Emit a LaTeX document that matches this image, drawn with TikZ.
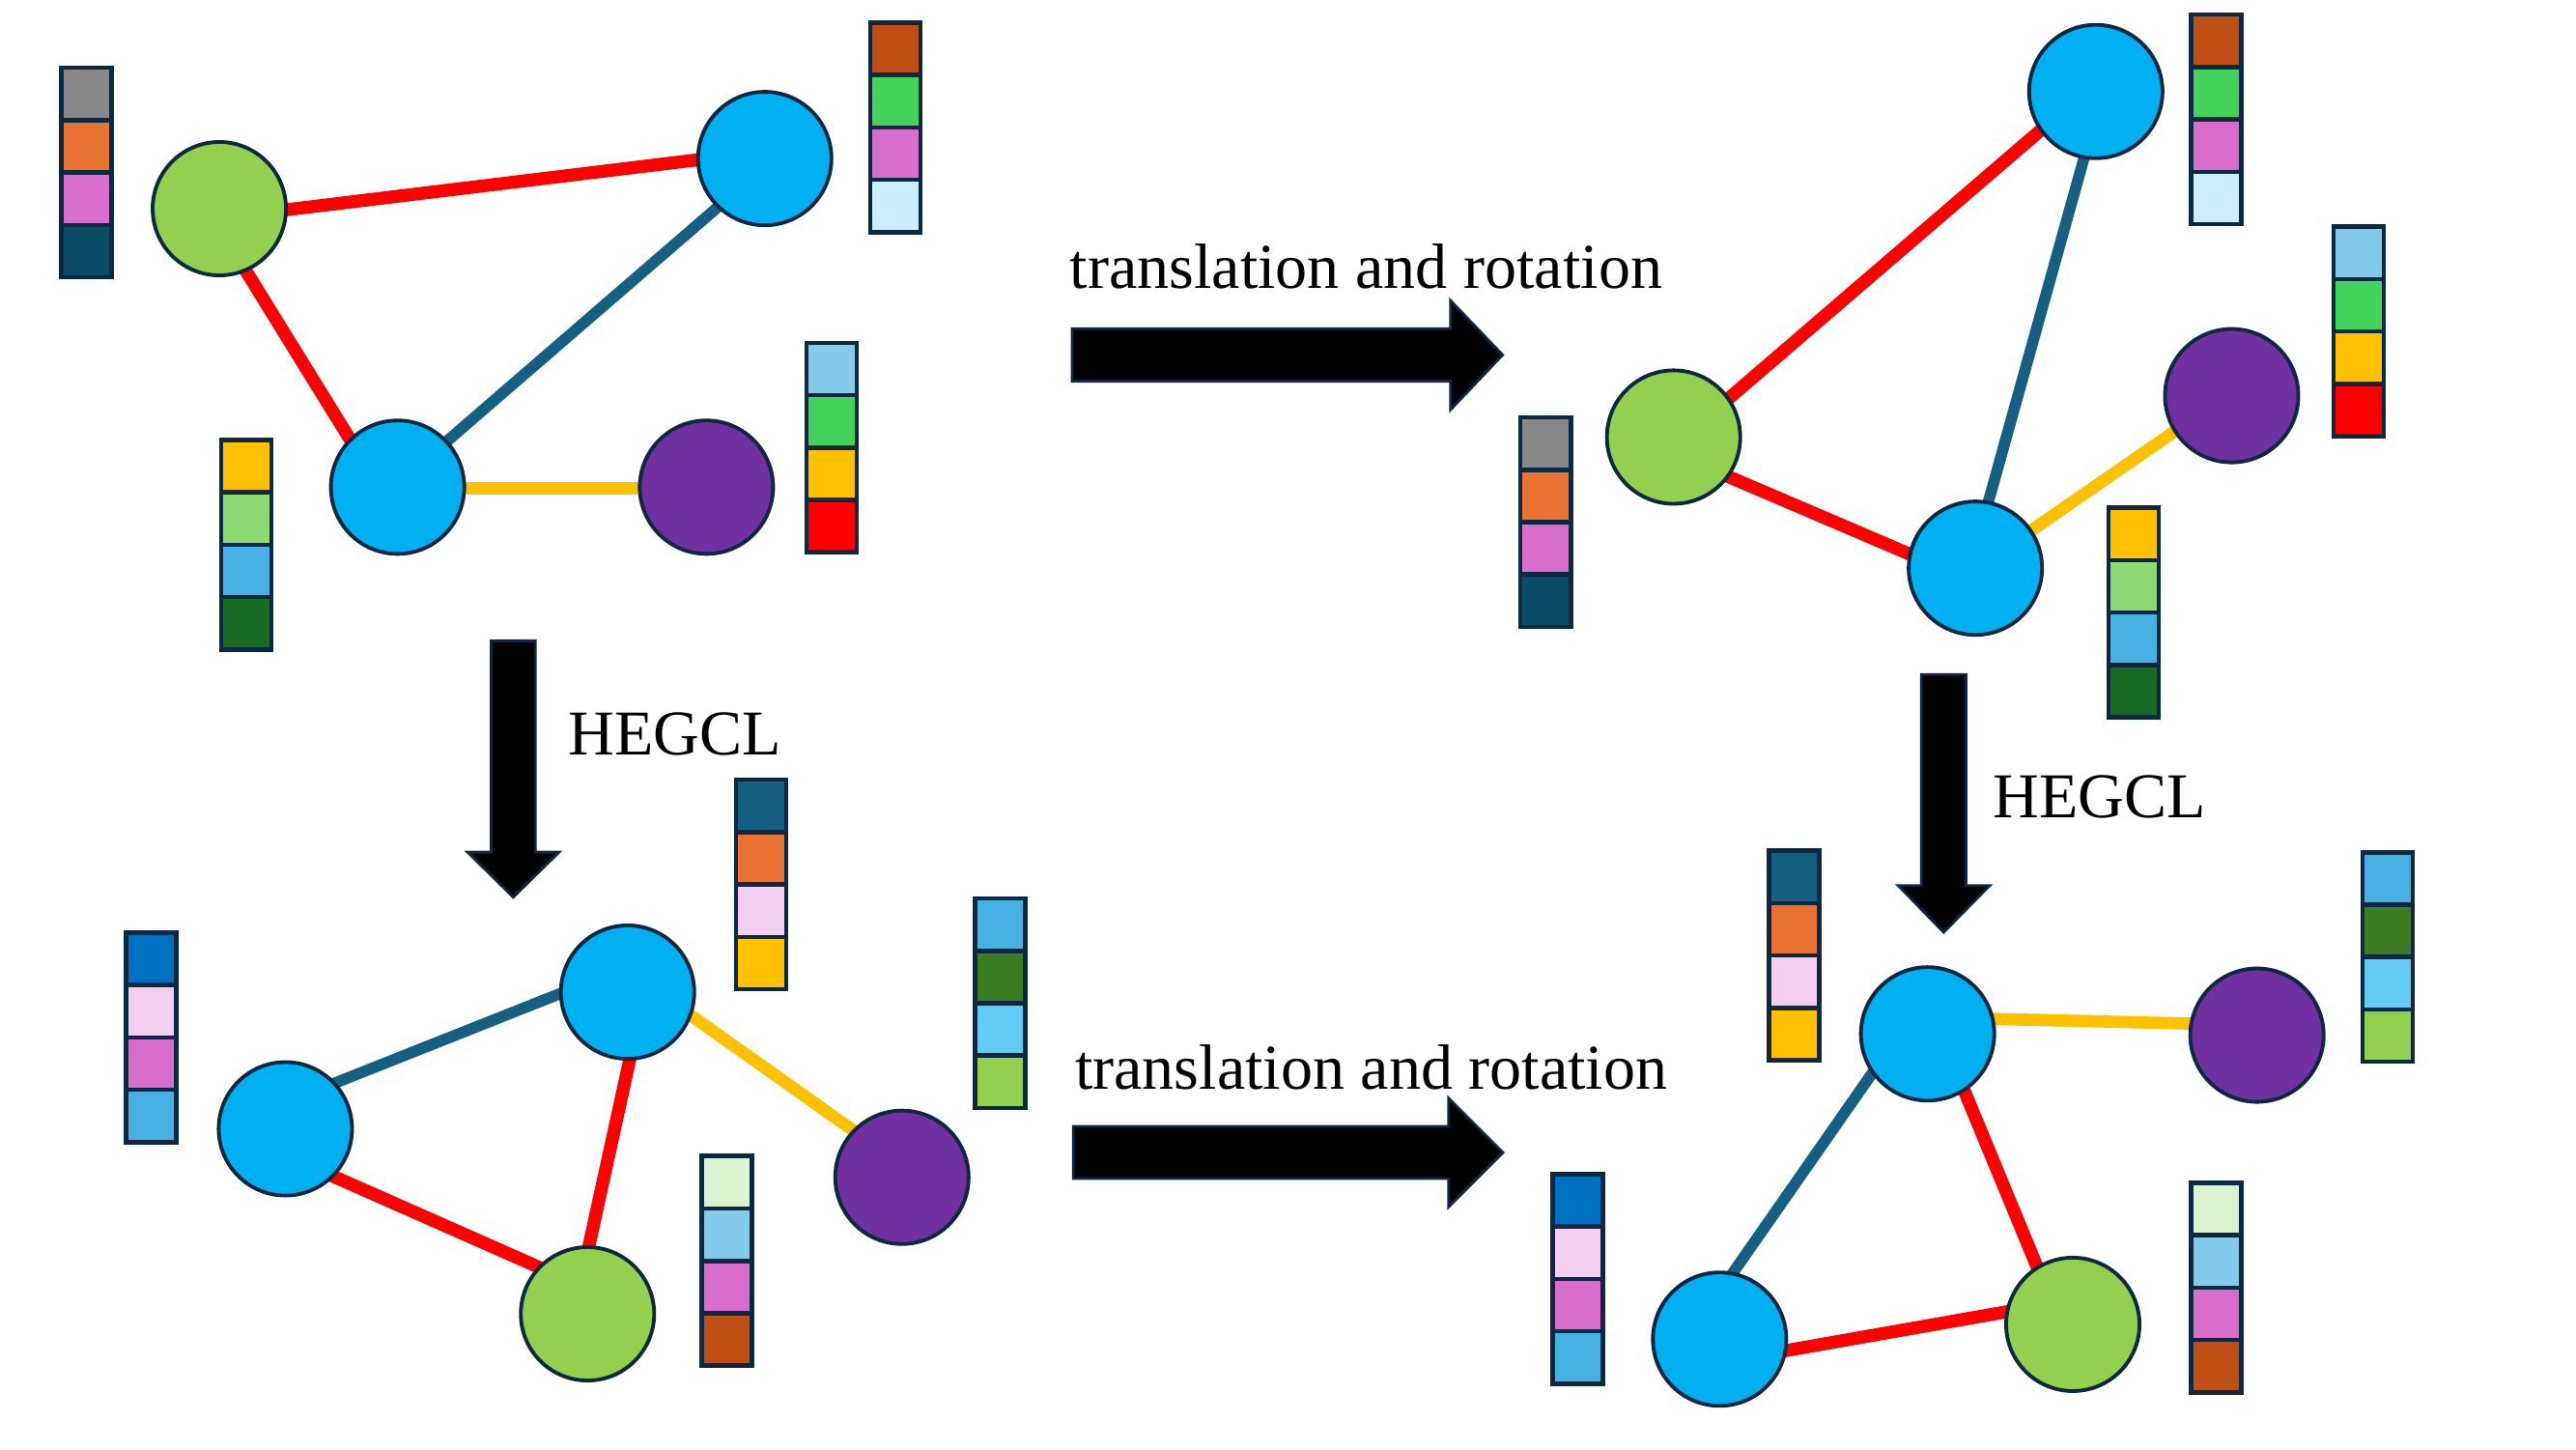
\documentclass[tikz,border=0pt]{standalone}
\usepackage{fontspec}
\setmainfont{Liberation Serif}
\pgfdeclarelayer{bg}
\pgfsetlayers{bg,main}
\definecolor{nodeblue}{HTML}{00B0F0}
\definecolor{nodegreen}{HTML}{92D050}
\definecolor{nodepurple}{HTML}{7030A0}
\definecolor{outline}{HTML}{0E2841}
\definecolor{edgered}{HTML}{FF0000}
\definecolor{edgeteal}{HTML}{156082}
\definecolor{edgeyellow}{HTML}{FFC000}
\definecolor{cgray}{HTML}{878787}
\definecolor{corange}{HTML}{E97132}
\definecolor{cmag}{HTML}{D86ECC}
\definecolor{cdteal}{HTML}{0C4B68}
\definecolor{cteal}{HTML}{156082}
\definecolor{cbrown}{HTML}{C04F15}
\definecolor{cgreen}{HTML}{44D35A}
\definecolor{cpale}{HTML}{CAEEFB}
\definecolor{clblue}{HTML}{83CAEB}
\definecolor{cred}{HTML}{FF0000}
\definecolor{cyellow}{HTML}{FFC000}
\definecolor{clgreen}{HTML}{8ED973}
\definecolor{csky}{HTML}{45B0E1}
\definecolor{cdgreen}{HTML}{196B24}
\definecolor{cblue}{HTML}{0070C0}
\definecolor{cpink}{HTML}{F2CFEE}
\definecolor{cmidgreen}{HTML}{3B7D23}
\definecolor{ccyan}{HTML}{61CBF3}
\definecolor{cyg}{HTML}{92D050}
\definecolor{cmint}{HTML}{DAF2D0}
\newcommand\featbar[7]{%
  \node[cell,fill=#4] (#1a) at ({#2+1.2},{#3+1.2}) {};
  \node[cell,fill=#5] (#1b) at (#1a.south west) {};
  \node[cell,fill=#6] (#1c) at (#1b.south west) {};
  \node[cell,fill=#7] (#1d) at (#1c.south west) {};}
\begin{document}
\begin{tikzpicture}[x=0.017cm,y=-0.017cm,
  vtx/.style={circle,draw=outline,line width=1.1pt,minimum size=1.38cm,inner sep=0pt,outer sep=0pt},
  cell/.style={rectangle,draw=outline,line width=1.3pt,minimum width=0.52cm,minimum height=0.542cm,inner sep=0pt,outer sep=0pt,anchor=north west},
  edge/.style={shorten <=-5pt,shorten >=-5pt},
  redge/.style={edge,draw=edgered,line width=3.8pt},
  tedge/.style={edge,draw=edgeteal,line width=3.3pt},
  yedge/.style={edge,draw=edgeyellow,line width=3.6pt},
  blockarrow/.style={fill=black,draw=outline,line width=0.8pt,line join=miter},
  lbl/.style={inner sep=0pt,anchor=base west,font=\fontsize{18.8}{23}\selectfont}]
\useasboundingbox (0,0) rectangle (1568,882);

% graph 1 (top left)
\node[vtx,fill=nodegreen] (g1) at (133.5,127) {};
\node[vtx,fill=nodeblue] (b1) at (465.5,96.5) {};
\node[vtx,fill=nodeblue] (b2) at (242,296.5) {};
\node[vtx,fill=nodepurple] (p1) at (430,296.5) {};
% graph 2 (bottom left)
\node[vtx,fill=nodeblue] (b3) at (173.7,687) {};
\node[vtx,fill=nodeblue] (b4) at (382,603.8) {};
\node[vtx,fill=nodegreen] (g2) at (357.6,799.6) {};
\node[vtx,fill=nodepurple] (p2) at (549,716.5) {};
% graph 3 (top right)
\node[vtx,fill=nodeblue] (b5) at (1275.7,55.7) {};
\node[vtx,fill=nodegreen] (g3) at (1018.7,266) {};
\node[vtx,fill=nodeblue] (b6) at (1202.4,345.8) {};
\node[vtx,fill=nodepurple] (p3) at (1358.4,240.8) {};
% graph 4 (bottom right)
\node[vtx,fill=nodeblue] (b7) at (1173.3,629.2) {};
\node[vtx,fill=nodepurple] (p4) at (1373.8,630) {};
\node[vtx,fill=nodeblue] (b8) at (1046.7,815) {};
\node[vtx,fill=nodegreen] (g4) at (1261.7,806) {};

\begin{pgfonlayer}{bg}
\draw[redge] (g1.-1) -- (b1.181);
\draw[redge] (g1.-67) -- (b2.135);
\draw[tedge] (b1.226) -- (b2.43);
\draw[yedge] (b2.-1) -- (p1.181);

\draw[tedge] (b3.43) -- (b4.181);
\draw[redge] (b3.-45) -- (g2.136);
\draw[redge] (b4.-88) -- (g2.89);
\draw[yedge] (b4.-20) -- (p2.136);

\draw[redge] (g3.35) -- (b5.215);
\draw[redge] (g3.-36) -- (b6.168);
\draw[tedge] (b5.260) -- (b6.79);
\draw[yedge] (b6.34) -- (p3.212);

\draw[yedge] (b7.13) -- (p4.170);
\draw[tedge] (b7.215) -- (b8.79);
\draw[redge] (b7.-57) -- (g4.122);
\draw[redge] (b8.-10) -- (g4.169);
\end{pgfonlayer}

% feature bars
\featbar{f1}{36}{40}{cgray}{corange}{cmag}{cdteal}
\featbar{f2}{528.6}{12.6}{cbrown}{cgreen}{cmag}{cpale}
\featbar{f3}{133.5}{266.5}{cyellow}{clgreen}{csky}{cdgreen}
\featbar{f4}{489.7}{207.4}{clblue}{cgreen}{cyellow}{cred}

\featbar{fa}{75.5}{566.4}{cblue}{cpink}{cmag}{csky}
\featbar{fb}{446.7}{473.3}{cteal}{corange}{cpink}{cyellow}
\featbar{fc}{592.3}{545.6}{csky}{cmidgreen}{ccyan}{cyg}
\featbar{fd}{426}{702.4}{cmint}{clblue}{cmag}{cbrown}

\featbar{fe}{924.3}{252.8}{cgray}{corange}{cmag}{cdteal}
\featbar{ff}{1332.6}{7.7}{cbrown}{cgreen}{cmag}{cpale}
\featbar{fg}{1419.3}{136.8}{clblue}{cgreen}{cyellow}{cred}
\featbar{fh}{1282.3}{307.8}{cyellow}{clgreen}{csky}{cdgreen}

\featbar{fi}{1075.5}{516.6}{cteal}{corange}{cpink}{cyellow}
\featbar{fj}{1436.8}{517.5}{csky}{cmidgreen}{ccyan}{cyg}
\featbar{fk}{943.9}{713.4}{cblue}{cpink}{cmag}{csky}
\featbar{fl}{1332.4}{718.7}{cmint}{clblue}{cmag}{cbrown}

% block arrows
\draw[blockarrow] (652.6,200) -- (883,200) -- (883,183) -- (914.6,216) -- (883,249.3) -- (883,232) -- (652.6,232) -- cycle;
\draw[blockarrow] (653.3,685.5) -- (881.7,685.5) -- (881.7,668.3) -- (914.8,701.4) -- (881.7,734.5) -- (881.7,717.3) -- (653.3,717.3) -- cycle;
\draw[blockarrow] (299,390) -- (325.8,390) -- (325.8,518.6) -- (340.3,518.6) -- (312.4,546) -- (284.6,518.6) -- (299,518.6) -- cycle;
\draw[blockarrow] (1169.5,410.5) -- (1196.7,410.5) -- (1196.7,539) -- (1211,539) -- (1183.1,567.4) -- (1155.5,539) -- (1169.5,539) -- cycle;

% labels
\node[lbl] (t1) at (650.9,175.3) {translation and rotation};
\node[lbl] (t2) at (654,662.6) {translation and rotation};
\node[lbl] (h1) at (345.6,459.6) {HEGCL};
\node[lbl] (h2) at (1212.7,497.6) {HEGCL};
\end{tikzpicture}
\end{document}
